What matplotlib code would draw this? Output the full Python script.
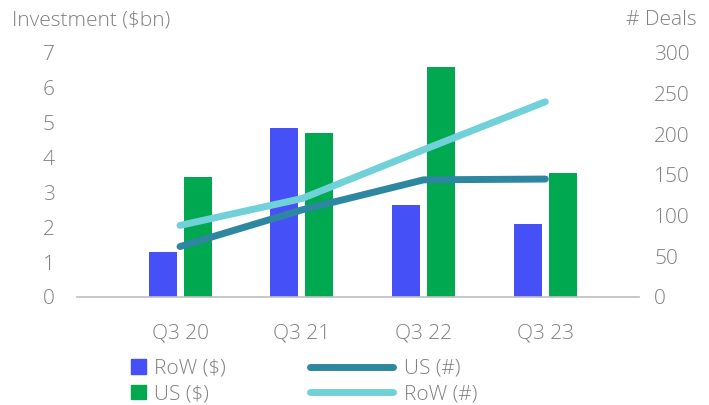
import numpy as np
import matplotlib.pyplot as plt
from matplotlib.patches import Patch
from matplotlib.lines import Line2D

# Data
quarters = ['Q3 20', 'Q3 21', 'Q3 22', 'Q3 23']
row_invest = [1.3, 4.85, 2.65, 2.1]
us_invest = [3.45, 4.7, 6.6, 3.55]
us_deals = [62, 107, 144, 145]
row_deals = [88, 121, 181, 240]

c_row = '#4550F7'
c_us = '#00A850'
c_us_line = '#2E87A0'
c_row_line = '#70D1D9'
txt = '#808080'

plt.rcParams['font.family'] = ['Open Sans', 'DejaVu Sans']
plt.rcParams['font.weight'] = 'light'
fs = 15

fig = plt.figure(figsize=(7.09, 4.05), dpi=100)
ax = fig.add_axes([0.1086, 0.2667, 0.7928, 0.6025])
ax2 = ax.twinx()

x = np.arange(len(quarters))
w = 0.23
ax.bar(x - 0.142, row_invest, w, color=c_row, zorder=2)
ax.bar(x + 0.145, us_invest, w, color=c_us, zorder=2)
ax2.plot(x, us_deals, color=c_us_line, lw=5, solid_capstyle='round', zorder=3)
ax2.plot(x, row_deals, color=c_row_line, lw=5, solid_capstyle='round', zorder=3)

ax.set_xlim(-0.846, 3.77)
ax.set_ylim(0, 7)
ax2.set_ylim(0, 300)
ax.set_yticks(range(0, 8))
ax2.set_yticks(range(0, 301, 50))
ax.set_xticks(x)
ax.set_xticklabels(quarters)

for a in (ax, ax2):
    for s in a.spines.values():
        s.set_visible(False)
    a.tick_params(length=0, labelsize=fs, labelcolor=txt)
ax.spines['bottom'].set_visible(True)
ax.spines['bottom'].set_color('#BFBFBF')
ax.spines['bottom'].set_linewidth(1.2)
ax.tick_params(axis='y', pad=16)
ax.tick_params(axis='x', pad=19)
ax2.tick_params(axis='y', pad=11)

fig.text(12 / 709, 1 - 20 / 405, 'Investment ($bn)', fontsize=fs, color=txt,
         ha='left', va='center')
fig.text(697 / 709, 1 - 20 / 405, '# Deals', fontsize=fs, color=txt,
         ha='right', va='center')

bar_handles = [Patch(color=c_row), Patch(color=c_us)]
leg1 = fig.legend(bar_handles, ['RoW ($)', 'US ($)'], loc='upper left',
                  bbox_to_anchor=(131 / 709, 1 - 359 / 405), frameon=False,
                  fontsize=fs, labelcolor=txt, handlelength=0.7,
                  handleheight=0.7, handletextpad=0.4, labelspacing=0.26,
                  borderpad=0, borderaxespad=0)
line_handles = [Line2D([], [], color=c_us_line, lw=5, solid_capstyle='round'),
                Line2D([], [], color=c_row_line, lw=5, solid_capstyle='round')]
leg2 = fig.legend(line_handles, ['US (#)', 'RoW (#)'], loc='upper left',
                  bbox_to_anchor=(310 / 709, 1 - 359 / 405), frameon=False,
                  fontsize=fs, labelcolor=txt, handlelength=4.0,
                  handletextpad=0.5, labelspacing=0.26, borderpad=0,
                  borderaxespad=0)

fig.savefig('out.png', dpi=100)
